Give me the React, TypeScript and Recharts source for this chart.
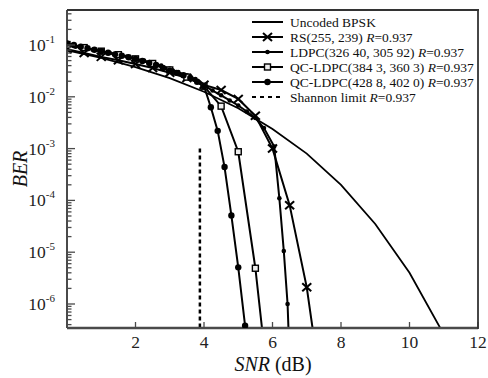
import { LineChart, Line, XAxis, YAxis, Legend } from 'recharts';

const FONT = '"Liberation Serif", "Times New Roman", serif';
const AXIS = '#4a4a4a';

// x: SNR (dB), y: BER
const xTicks = [2, 4, 6, 8, 10, 12];
const yMajor = [1e-6, 1e-5, 1e-4, 1e-3, 1e-2, 1e-1];
const yMajorExp = ['-6', '-5', '-4', '-3', '-2', '-1'];
const yDomain = [3.44e-7, 0.474];

const bpskSnr = [0, 1, 2, 3, 4, 5, 6, 7, 8, 9, 10, 11];
const bpskBer = [0.0786, 0.0563, 0.0375, 0.0229, 0.0125, 0.006, 0.0024, 8.0e-4, 2.0e-4, 3.5e-5, 4.0e-6, 2.6e-7];

const rsSnr = [0, 0.5, 1, 1.5, 2, 2.5, 3, 3.5, 4, 4.5, 5, 5.5, 6, 6.5, 7, 7.5];
const rsBer = [0.083, 0.07, 0.059, 0.051, 0.043, 0.036, 0.029, 0.023, 0.017, 0.0135, 0.0091, 0.0043, 1.0e-3, 8.1e-5, 2.1e-6, 1e-8];

const ldpcSnr = [0, 0.25, 0.5, 0.75, 1, 1.25, 1.5, 1.75, 2, 2.25, 2.5, 2.75, 3, 3.25, 3.5, 3.75, 4, 4.25, 4.5, 4.75, 5, 5.25, 5.5, 5.75, 6.05, 6.2, 6.33, 6.44, 6.55];
const ldpcBer = [0.1, 0.093, 0.087, 0.081, 0.076, 0.07, 0.065, 0.06, 0.055, 0.05, 0.045, 0.04, 0.035, 0.03, 0.026, 0.022, 0.0166, 0.0132, 0.0107, 0.0085, 0.0068, 0.0052, 0.0039, 0.0025, 0.0011, 1.1e-4, 1.05e-5, 1.0e-6, 1e-8];

const qc3843Snr = [0, 0.5, 1, 1.5, 2, 2.5, 3, 3.5, 4, 4.5, 5, 5.5, 6];
const qc3843Ber = [0.102, 0.089, 0.076, 0.065, 0.054, 0.044, 0.033, 0.024, 0.016, 0.0066, 8.7e-4, 4.9e-6, 5e-9];

const qc4288Snr = [0, 0.2, 0.4, 0.6, 0.8, 1, 1.2, 1.4, 1.6, 1.8, 2, 2.2, 2.4, 2.6, 2.8, 3, 3.2, 3.4, 3.6, 3.8, 4, 4.2, 4.4, 4.6, 4.8, 5, 5.2];
const qc4288Ber = [0.107, 0.1, 0.093, 0.087, 0.081, 0.076, 0.071, 0.066, 0.062, 0.058, 0.054, 0.049, 0.045, 0.041, 0.036, 0.032, 0.029, 0.026, 0.023, 0.0195, 0.016, 6.3e-3, 2.2e-3, 4.4e-4, 5.1e-5, 5.1e-6, 3.8e-7];

const shannonSnr = [3.88, 3.88];
const shannonBer = [1e-3, 1e-9];

const zip = (xs: number[], ys: number[]) => xs.map((snr, i) => ({ snr, ber: ys[i] }));

// log minor ticks 2..9 per decade, kept inside the domain
const yMinor: number[] = [];
[1e-7, ...yMajor].forEach((d) => {
  for (let k = 2; k <= 9; k++) {
    const v = d * k;
    if (v > yDomain[0] && v < yDomain[1]) yMinor.push(v);
  }
});
const yTicks = [...yMajor, ...yMinor].sort((a, b) => a - b);

type Shape = 'none' | 'cross' | 'dot' | 'bigdot' | 'square' | 'dash';

function Marker({ cx, cy, shape }: { cx: number; cy: number; shape: Shape }) {
  if (shape === 'cross') {
    return (
      <g stroke="#000" strokeWidth={2}>
        <line x1={cx - 4.5} y1={cy - 4} x2={cx + 4.5} y2={cy + 4} />
        <line x1={cx - 4.5} y1={cy + 4} x2={cx + 4.5} y2={cy - 4} />
      </g>
    );
  }
  if (shape === 'dot') return <circle cx={cx} cy={cy} r={2.3} fill="#000" />;
  if (shape === 'bigdot') return <circle cx={cx} cy={cy} r={3.2} fill="#000" />;
  if (shape === 'square') {
    return <rect x={cx - 3} y={cy - 3} width={6} height={6} fill="#eee" stroke="#000" strokeWidth={1.4} />;
  }
  return null;
}

const dotOf = (shape: Shape) => (p: any) => (
  <g key={`m-${p.index}`}>
    {p.cx != null && p.cy != null ? <Marker cx={p.cx} cy={p.cy} shape={shape} /> : null}
  </g>
);

const legendItems: { label: string; shape: Shape; rate: boolean }[] = [
  { label: 'Uncoded BPSK', shape: 'none', rate: false },
  { label: 'RS(255, 239) ', shape: 'cross', rate: true },
  { label: 'LDPC(326 40, 305 92) ', shape: 'dot', rate: true },
  { label: 'QC-LDPC(384 3, 360 3) ', shape: 'square', rate: true },
  { label: 'QC-LDPC(428 8, 402 0) ', shape: 'bigdot', rate: true },
  { label: 'Shannon limit ', shape: 'dash', rate: true },
];

function LegendBox() {
  return (
    <svg width={238} height={96}>
      {legendItems.map((it, i) => {
        const y = 9 + i * 15;
        return (
          <g key={it.label}>
            <line
              x1={4}
              x2={35}
              y1={y}
              y2={y}
              stroke="#000"
              strokeWidth={2}
              strokeDasharray={it.shape === 'dash' ? '4 4' : undefined}
            />
            <Marker cx={19.5} cy={y} shape={it.shape} />
            <text x={42} y={y + 4.5} fontSize={13.5} fontFamily={FONT} fill="#111">
              {it.label}
              {it.rate && <tspan fontStyle="italic">R</tspan>}
              {it.rate && '=0.937'}
            </text>
          </g>
        );
      })}
    </svg>
  );
}

function YTick({ x, y, payload }: any) {
  const v = payload.value;
  const i = yMajor.findIndex((m) => Math.abs(m - v) / m < 1e-6);
  const major = i >= 0;
  return (
    <g>
      <line x1={x} x2={x + (major ? 8 : 4.5)} y1={y} y2={y} stroke={AXIS} strokeWidth={1.3} />
      {major && (
        <text x={x - 12} y={y + 6} textAnchor="end" fontSize={17.5} fontFamily={FONT} fill="#222">
          10
          <tspan fontSize={11} dy={-8}>
            {yMajorExp[i]}
          </tspan>
        </text>
      )}
    </g>
  );
}

function XTick({ x, y, payload }: any) {
  return (
    <g>
      <line x1={x} x2={x} y1={y} y2={y - 6} stroke={AXIS} strokeWidth={1.3} />
      <text x={x} y={y + 20} textAnchor="middle" fontSize={17.5} fontFamily={FONT} fill="#222">
        {payload.value}
      </text>
    </g>
  );
}

export default function App() {
  return (
    <div style={{ position: 'absolute', left: 0, top: 0, width: 488, height: 378, background: '#fff' }}>
      <LineChart width={488} height={378} margin={{ top: 10, right: 10, bottom: 0, left: 0 }}>
        <XAxis
          dataKey="snr"
          type="number"
          domain={[0, 12]}
          ticks={xTicks}
          interval={0}
          allowDataOverflow
          height={50}
          tickSize={0}
          tickMargin={0}
          tickLine={false}
          axisLine={{ stroke: AXIS, strokeWidth: 2.5 }}
          tick={<XTick />}
        />
        <YAxis
          dataKey="ber"
          type="number"
          scale="log"
          domain={yDomain}
          ticks={yTicks}
          interval={0}
          allowDataOverflow
          width={67}
          tickSize={0}
          tickMargin={0}
          tickLine={false}
          axisLine={{ stroke: AXIS, strokeWidth: 2 }}
          tick={<YTick />}
        />
        <Line data={zip(bpskSnr, bpskBer)} dataKey="ber" type="linear" stroke="#000" strokeWidth={1.8} dot={false} isAnimationActive={false} />
        <Line data={zip(rsSnr, rsBer)} dataKey="ber" type="linear" stroke="#000" strokeWidth={2} dot={dotOf('cross')} isAnimationActive={false} />
        <Line data={zip(ldpcSnr, ldpcBer)} dataKey="ber" type="linear" stroke="#000" strokeWidth={2} dot={dotOf('dot')} isAnimationActive={false} />
        <Line data={zip(qc3843Snr, qc3843Ber)} dataKey="ber" type="linear" stroke="#000" strokeWidth={2} dot={dotOf('square')} isAnimationActive={false} />
        <Line data={zip(qc4288Snr, qc4288Ber)} dataKey="ber" type="linear" stroke="#000" strokeWidth={2} dot={dotOf('bigdot')} isAnimationActive={false} />
        <Line data={zip(shannonSnr, shannonBer)} dataKey="ber" type="linear" stroke="#000" strokeWidth={2.5} strokeDasharray="4 3" dot={false} isAnimationActive={false} />
        <Legend
          layout="vertical"
          align="center"
          verticalAlign="middle"
          content={() => <LegendBox />}
          wrapperStyle={{ position: 'absolute', left: 248, top: 13, width: 238, height: 96 }}
        />
      </LineChart>
      <svg width={488} height={378} style={{ position: 'absolute', left: 0, top: 0, pointerEvents: 'none' }}>
        <line x1={67} x2={479} y1={10} y2={10} stroke="#333" strokeWidth={1.8} />
        <line x1={478} x2={478} y1={10} y2={329} stroke="#333" strokeWidth={1.8} />
        <text x={20} y={169} transform="rotate(-90 20 169)" textAnchor="middle" dominantBaseline="central" fontSize={20} fontStyle="italic" fontFamily={FONT} fill="#111">
          BER
        </text>
        <text x={273} y={371} textAnchor="middle" fontSize={20} fontFamily={FONT} fill="#111">
          <tspan fontStyle="italic">SNR</tspan> (dB)
        </text>
      </svg>
    </div>
  );
}
